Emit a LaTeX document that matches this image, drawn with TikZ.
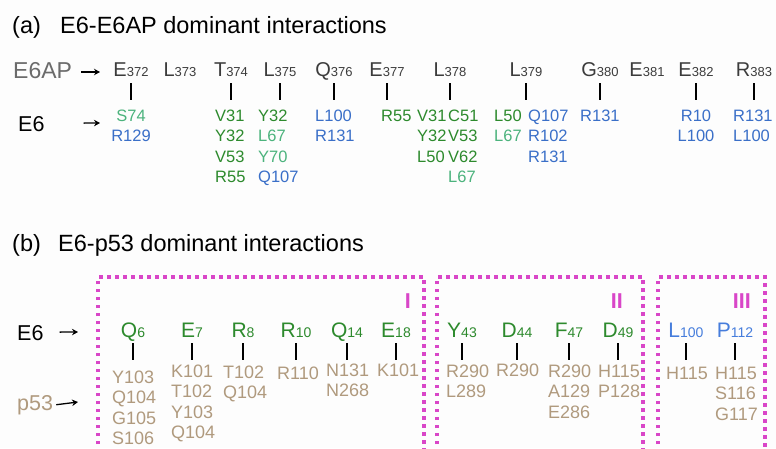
\documentclass[tikz,border=0pt]{standalone}
\usepackage{fontspec}
\setmainfont{Liberation Sans}
\usetikzlibrary{arrows.meta}
\definecolor{dgreen}{RGB}{45,138,45}
\definecolor{lgreen}{RGB}{76,179,125}
\definecolor{eblue}{RGB}{58,111,200}
\definecolor{lblue}{RGB}{70,125,220}
\definecolor{tanc}{RGB}{176,154,126}
\definecolor{magd}{RGB}{217,70,200}
\definecolor{resgray}{RGB}{60,60,60}
\definecolor{labgray}{RGB}{107,107,107}
\definecolor{bgc}{RGB}{253,253,253}
\newcommand\nA[1]{{\fontsize{13}{13}\selectfont #1}}
\newcommand\nB[1]{{\fontsize{14}{14}\selectfont #1}}
\newcommand\plist[5]{% name, x, y, anchor, list
  \foreach \c/\t [count=\i] in {#5} {
    \node[ptn, anchor=#4, text=\c] (#1-\i) at ({#2},{#3+(\i-1)*20.5}) {\t};
  }}
\newcommand\plistb[4]{% name, x, y, list
  \foreach \t [count=\i] in {#4} {
    \node[ptnb, anchor=base west] (#1-\i) at ({#2},{#3+(\i-1)*20.5}) {\t};
  }}
\begin{document}
\begin{tikzpicture}[x=1pt,y=-1pt,
  title/.style={anchor=base west, inner sep=0, font=\fontsize{23.5}{23.5}\selectfont, text=black},
  lab/.style={anchor=base west, inner sep=0, font=\fontsize{21.5}{21.5}\selectfont},
  resa/.style={anchor=base, inner sep=0, text=resgray, font=\fontsize{20}{20}\selectfont},
  resb/.style={anchor=base, inner sep=0, text=dgreen, font=\fontsize{21}{21}\selectfont},
  ptn/.style={inner sep=0, font=\fontsize{16.5}{16.5}\selectfont},
  ptnb/.style={inner sep=0, text=tanc, font=\fontsize{18}{18}\selectfont},
  tick/.style={line width=2pt, black},
  arr/.style={-{Stealth[length=6pt,width=6.5pt]}, line width=1.3pt, black},
  dotbox/.style={magd, line width=3.5pt, dash pattern=on 3.5pt off 4.5pt},
  roman/.style={anchor=base east, inner sep=0, text=magd, font=\bfseries\fontsize{21.5}{21.5}\selectfont}
]
\useasboundingbox (0,0) rectangle (776,448);
\fill[bgc] (0,0) rectangle (776,448);
\clip (0,0) rectangle (776,448);

% ---------- panel (a)
\node[title] (ta) at (12,33) {(a)};
\node[title] (tat) at (60,33) {E6-E6AP dominant interactions};
\node[lab, text=labgray, font=\fontsize{23}{23}\selectfont] (lE6AP) at (13,78) {E6AP};
\node[lab] (lE6a) at (18,131) {E6};
\coordinate (aE6AP) at (100,72);
\coordinate (aE6a) at (100,123);
\draw[arr] (83,72 -| lE6AP.east) ++(9,0) -- (aE6AP);
\draw[arr] (lE6a.east) ++(39,-0.5) -- (aE6a);

\foreach \nm/\x/\l/\n in {e372/131/E/372, l373/180/L/373, t374/231/T/374, l375/280/L/375,
  q376/334/Q/376, e377/387/E/377, l378/450/L/378, l379/526/L/379, g380/600/G/380,
  e381/647/E/381, e382/696/E/382, r383/754/R/383}
  \node[resa] (\nm) at (\x,76) {\l\nA{\n}};

\foreach \nm in {e372,t374,l375,q376,e377,l378,l379,g380,e382,r383}
  \draw[tick] (\nm.base) ++(0,7) -- ++(0,17);

\plist{pe372}{131}{121}{base}{lgreen/S74, eblue/R129}
\plist{pt374}{215}{121}{base west}{dgreen/V31, dgreen/Y32, dgreen/V53, dgreen/R55}
\plist{pl375}{258}{121}{base west}{dgreen/Y32, lgreen/L67, lgreen/Y70, eblue/Q107}
\plist{pq376}{315}{121}{base west}{eblue/L100, eblue/R131}
\plist{pe377}{381}{121}{base west}{dgreen/R55}
\plist{pl378a}{417}{121}{base west}{dgreen/V31, dgreen/Y32, dgreen/L50}
\plist{pl378b}{448}{121}{base west}{dgreen/C51, dgreen/V53, dgreen/V62, lgreen/L67}
\plist{pl379a}{494}{121}{base west}{dgreen/L50, lgreen/L67}
\plist{pl379b}{528}{121}{base west}{eblue/Q107, eblue/R102, eblue/R131}
\plist{pg380}{580}{121}{base west}{eblue/R131}
\plist{pe382}{696}{121}{base}{eblue/R10, eblue/L100}
\plist{pr383}{733}{121}{base west}{eblue/R131, eblue/L100}

% ---------- panel (b)
\node[title] (tb) at (12,251) {(b)};
\node[title] (tbt) at (58,251) {E6-p53 dominant interactions};
\node[lab] (lE6b) at (17,340) {E6};
\node[lab, text=tanc] (lp53) at (17,410) {p53};
\coordinate (aE6b) at (78,332);
\coordinate (ap53) at (78,402);
\draw[arr] (lE6b.east) ++(16,-0.5) -- (aE6b);
\draw[arr] (lp53.east) ++(3,0) -- (ap53);

\draw[dotbox] (98,452) -- (98,277) -- (424,277) -- (424,452);
\draw[dotbox] (437,452) -- (437,277) -- (643,277) -- (643,452);
\draw[dotbox] (658,452) -- (658,277) -- (765,277) -- (765,452);
\node[roman] (r1) at (411,308) {I};
\node[roman] (r2) at (623,308) {II};
\node[roman] (r3) at (751,308) {III};

\foreach \nm/\x/\l/\n in {q6/133/Q/6, e7/192/E/7, r8/243/R/8, r10/296/R/10, q14/347/Q/14,
  e18/396/E/18, y43/462/Y/43, d44/517/D/44, f47/569/F/47, d49/618/D/49}
  \node[resb] (\nm) at (\x,337) {\l\nB{\n}};
\node[resb, text=lblue] (l100) at (686,337) {L\nB{100}};
\node[resb, text=lblue] (p112) at (735,337) {P\nB{112}};

\foreach \nm in {q6,e7,r8,r10,q14,e18,y43,d44,f47,d49,l100,p112}
  \draw[tick] (\nm.base) ++(0,6) -- ++(0,17);

\plistb{pq6}{112}{383}{Y103, Q104, G105, S106}
\plistb{pe7}{171}{377}{K101, T102, Y103, Q104}
\plistb{pr8}{223}{378}{T102, Q104}
\plistb{pr10}{277}{379}{R110}
\plistb{pq14}{326}{376}{N131, N268}
\plistb{pe18}{377}{376}{K101}
\plistb{py43}{446}{377}{R290, L289}
\plistb{pd44}{496}{376}{R290}
\plistb{pf47}{548}{377}{R290, A129, E286}
\plistb{pd49}{598}{377}{H115, P128}
\plistb{pl100}{666}{379}{H115}
\plistb{pp112}{715}{379}{H115, S116, G117}
\end{tikzpicture}
\end{document}
